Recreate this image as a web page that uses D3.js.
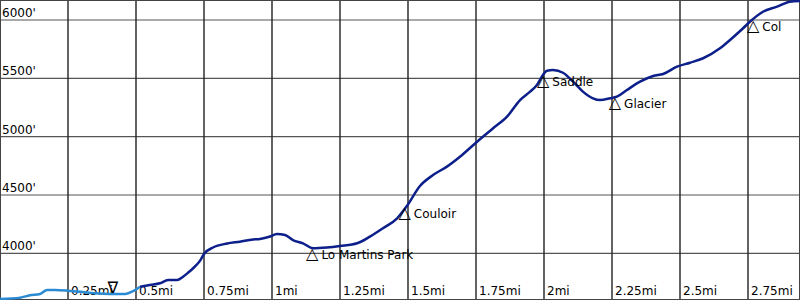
<!DOCTYPE html>
<html>
<head>
<meta charset="utf-8">
<script src="https://cdn.jsdelivr.net/npm/d3@7"></script>
<style>
  body { margin: 0; background: #fff; }
  text { font-family: "DejaVu Sans", sans-serif; font-size: 12px; fill: #000; }
</style>
</head>
<body>
<div id="chart"></div>
<script>
// Approach section (light blue), distance in miles / elevation in feet
var approachMiles = [0, 0.074, 0.110, 0.147, 0.173, 0.202, 0.25, 0.294, 0.349, 0.404, 0.46, 0.485, 0.515];
var approachFeet  = [3609, 3620, 3640, 3651, 3686, 3686, 3680, 3671, 3657, 3651, 3651, 3671, 3714];

// Main route (dark blue)
var routeMiles = [0.515, 0.551, 0.588, 0.618, 0.651, 0.673, 0.692, 0.710, 0.735, 0.75, 0.783, 0.835, 0.882, 0.930,
  0.956, 0.993, 1.018, 1.048, 1.077, 1.114, 1.151, 1.202, 1.25, 1.313, 1.360, 1.408, 1.460, 1.496, 1.544,
  1.592, 1.643, 1.691, 1.754, 1.813, 1.864, 1.912, 1.949, 1.974, 1.996, 2.011, 2.033, 2.070, 2.107, 2.143,
  2.180, 2.206, 2.243, 2.268, 2.305, 2.353, 2.401, 2.438, 2.489, 2.537, 2.585, 2.647, 2.684, 2.732, 2.757,
  2.805, 2.857, 2.904, 2.941];
var routeFeet = [3714, 3729, 3743, 3771, 3771, 3800, 3835, 3872, 3935, 3995, 4050, 4084, 4100, 4119,
  4123, 4144, 4166, 4157, 4114, 4086, 4043, 4050, 4063, 4086, 4143, 4215, 4300, 4406, 4577,
  4671, 4743, 4828, 4957, 5072, 5171, 5314, 5386, 5443, 5529, 5565, 5571, 5548, 5471, 5386,
  5329, 5314, 5329, 5343, 5400, 5471, 5520, 5537, 5600, 5634, 5672, 5757, 5829, 5929, 5985,
  6071, 6114, 6157, 6163];

// Waypoints
var wpNames   = ["", "Lo Martins Park", "Couloir", "Saddle", "Glacier", "Col"];
var wpMiles   = [0.415, 1.151, 1.491, 2.0, 2.264, 2.772];
var wpFeet    = [3651, 4043, 4400, 5530, 5343, 6000];
var wpSymbols = ["\u2207", "\u25B3", "\u25B3", "\u25B3", "\u25B3", "\u25B3"];

// Grid ticks
var mileTicks = [0.25, 0.5, 0.75, 1, 1.25, 1.5, 1.75, 2, 2.25, 2.5, 2.75];
var mileLabels = ["0.25mi", "0.5mi", "0.75mi", "1mi", "1.25mi", "1.5mi", "1.75mi", "2mi", "2.25mi", "2.5mi", "2.75mi"];
var feetTicks = [4000, 4500, 5000, 5500, 6000];
var feetLabels = ["4000'", "4500'", "5000'", "5500'", "6000'"];

var width = 800, height = 300;

var svg = d3.select("#chart").append("svg")
  .attr("width", width)
  .attr("height", height);

var x = d3.scaleLinear().domain([0, 800 / 272]).range([0, width]);
var y = d3.scaleLinear().domain([3600, 6171.4]).range([height, 0]);

// horizontal grid
svg.selectAll(".hgrid").data(feetTicks).enter().append("line")
  .attr("x1", 0).attr("x2", width)
  .attr("y1", function (d) { return y(d); })
  .attr("y2", function (d) { return y(d); })
  .attr("stroke", "#555").attr("stroke-width", 1.2);

// vertical grid
svg.selectAll(".vgrid").data(mileTicks).enter().append("line")
  .attr("x1", function (d) { return x(d); })
  .attr("x2", function (d) { return x(d); })
  .attr("y1", 0).attr("y2", height)
  .attr("stroke", "#222").attr("stroke-width", 1.4);

// border
svg.append("rect")
  .attr("x", 0.5).attr("y", 0.5)
  .attr("width", width - 1).attr("height", height - 1)
  .attr("fill", "none").attr("stroke", "#444").attr("stroke-width", 1);

// elevation labels
svg.selectAll(".ylab").data(feetTicks).enter().append("text")
  .attr("x", 2)
  .attr("y", function (d) { return y(d) - 3; })
  .text(function (d, i) { return feetLabels[i]; });

// distance labels
svg.selectAll(".xlab").data(mileTicks).enter().append("text")
  .attr("x", function (d) { return x(d) + 3; })
  .attr("y", 295)
  .text(function (d, i) { return mileLabels[i]; });

var line = d3.line()
  .x(function (d) { return x(d[0]); })
  .y(function (d) { return y(d[1]); })
  .curve(d3.curveMonotoneX);

svg.append("path")
  .datum(d3.zip(approachMiles, approachFeet))
  .attr("d", line)
  .attr("fill", "none")
  .attr("stroke", "#2a8ad2")
  .attr("stroke-width", 2.5);

svg.append("path")
  .datum(d3.zip(routeMiles, routeFeet))
  .attr("d", line)
  .attr("fill", "none")
  .attr("stroke", "#0c1f8a")
  .attr("stroke-width", 2.5);

// waypoint markers
var wp = wpNames.map(function (n, i) {
  return { name: n, mi: wpMiles[i], ft: wpFeet[i], sym: wpSymbols[i] };
});

var wpText = svg.selectAll(".wp").data(wp).enter().append("text")
  .attr("x", function (d) { return d.name ? x(d.mi) - 7 : x(d.mi); })
  .attr("y", function (d) { return d.name ? y(d.ft) + 11 : y(d.ft) - 1; })
  .attr("text-anchor", function (d) { return d.name ? "start" : "middle"; });

wpText.append("tspan")
  .style("font-size", "16px")
  .text(function (d) { return d.sym; });

wpText.append("tspan")
  .attr("dx", 3)
  .text(function (d) { return d.name; });
</script>
</body>
</html>
